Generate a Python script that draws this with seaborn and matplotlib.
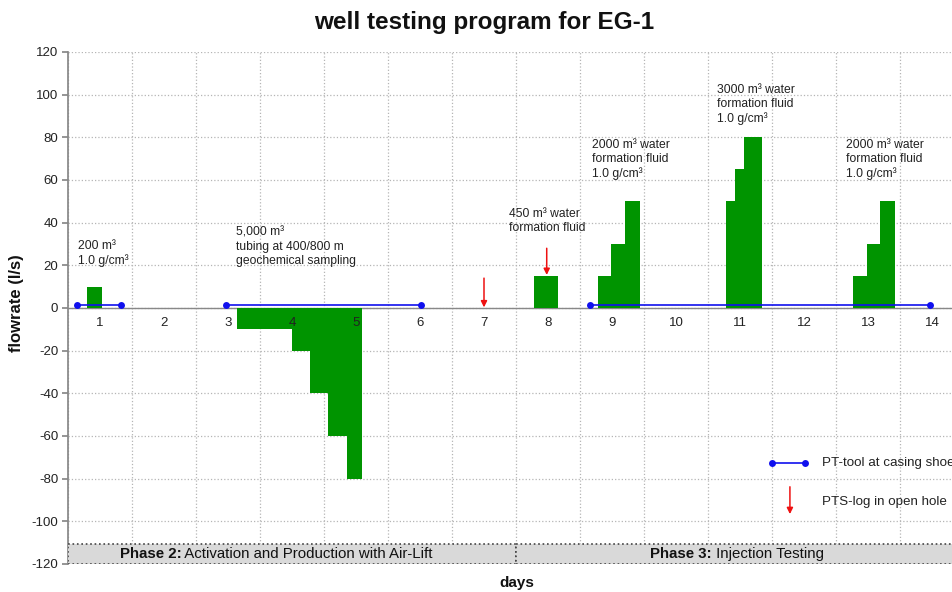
import matplotlib
matplotlib.use("Agg")
import matplotlib.pyplot as plt
import seaborn as sns
import pandas as pd
from matplotlib.patches import Rectangle

# bar segments (start/end in days, flowrate in l/s)
bar_start = [0.30, 2.64, 2.92, 3.21, 3.50, 3.78, 4.06, 4.36, 7.28,
             8.28, 8.48, 8.70, 10.28, 10.42, 10.57, 10.71, 12.27, 12.48, 12.69]
bar_end = [0.53, 2.92, 3.21, 3.50, 3.78, 4.06, 4.36, 4.59, 7.66,
           8.48, 8.70, 8.94, 10.42, 10.57, 10.71, 10.85, 12.48, 12.69, 12.92]
flowrate = [10, -10, -10, -10, -20, -40, -60, -80, 15,
            15, 30, 50, 50, 65, 80, 80, 15, 30, 50]

# PT-tool runs (start, end)
pt_start = [0.14, 2.47, 8.16]
pt_end = [0.83, 5.52, 13.47]
pt_level = 1.2

# PTS-log arrows (x, from, to)
pts_x = [6.5, 7.48]
pts_top = [14, 28]
pts_bottom = [0.3, 15.5]

day_labels = [str(d) for d in range(1, 15)]

notes = ["200 m³\n1.0 g/cm³",
         "5,000 m³\ntubing at 400/800 m\ngeochemical sampling",
         "450 m³ water\nformation fluid",
         "2000 m³ water\nformation fluid\n1.0 g/cm³",
         "3000 m³ water\nformation fluid\n1.0 g/cm³",
         "2000 m³ water\nformation fluid\n1.0 g/cm³"]
note_x = [0.15, 2.62, 6.89, 8.18, 10.14, 12.15]
note_top = [32, 38, 47, 79, 105, 79]

phase_bold = ["Phase 2:", "Phase 3:"]
phase_rest = [" Activation and Production with Air-Lift", " Injection Testing"]
phase_start = [0, 7]
phase_end = [7, 14]
phase_split_x = [1.77, 10.06]

sns.set_theme(style="white")
plt.rcParams['font.family'] = ['Liberation Sans', 'DejaVu Sans']
plt.rcParams['axes.unicode_minus'] = False

fig = plt.figure(figsize=(9.53, 5.92), dpi=100)
ax = fig.add_axes([68 / 953, 28 / 592, 896 / 953, 512 / 592])

green = "#009400"
for s, e, f in zip(bar_start, bar_end, flowrate):
    ax.bar(s, f, width=e - s, align='edge', color=green, linewidth=0, zorder=3)

pt_df = pd.DataFrame({
    "x": [v for pair in zip(pt_start, pt_end) for v in pair],
    "y": [pt_level] * (2 * len(pt_start)),
    "run": [i for i in range(len(pt_start)) for _ in range(2)],
})
sns.lineplot(data=pt_df, x="x", y="y", units="run", estimator=None, color="#1010ee",
             lw=1.2, marker="o", markersize=5, markeredgewidth=0, ax=ax, zorder=4)

for x, t, b in zip(pts_x, pts_top, pts_bottom):
    ax.annotate("", xy=(x, b), xytext=(x, t),
                arrowprops=dict(arrowstyle='-|>', color='#ee1111', lw=1.1,
                                mutation_scale=9, shrinkA=0, shrinkB=0), zorder=5)

for txt, x, y in zip(notes, note_x, note_top):
    ax.text(x, y, txt, fontsize=8.7, color="#222222", va='top', ha='left',
            linespacing=1.2, zorder=5)

for i, lab in enumerate(day_labels):
    ax.text(i + 0.5, -7, lab, fontsize=9.5, color="#222222", ha='center', va='center')

# legend drawn inside the axes
ax.plot([11.0, 11.52], [-72.7, -72.7], color="#1010ee", lw=1.2, marker="o",
        markersize=5, markeredgewidth=0, zorder=4)
ax.text(11.78, -72.7, "PT-tool at casing shoe", fontsize=9.6, color="#222222", va='center')
ax.annotate("", xy=(11.28, -96.6), xytext=(11.28, -83.8),
            arrowprops=dict(arrowstyle='-|>', color='#ee1111', lw=1.1,
                            mutation_scale=9, shrinkA=0, shrinkB=0))
ax.text(11.78, -90.8, "PTS-log in open hole", fontsize=9.6, color="#222222", va='center')

# phase band
for s, e, b, r, sx in zip(phase_start, phase_end, phase_bold, phase_rest, phase_split_x):
    ax.add_patch(Rectangle((s, -120), e - s, 9.3, facecolor="#d9d9d9",
                           edgecolor="#444444", linestyle=':', lw=1.2, zorder=6))
    ax.text(sx, -115.3, b, fontsize=10.8, fontweight='bold', color="#111111",
            ha='right', va='center', zorder=7)
    ax.text(sx, -115.3, r, fontsize=10.8, color="#111111", ha='left', va='center', zorder=7)

ax.set_xlim(0, 14)
ax.set_ylim(-120, 120)
ax.set_yticks(range(-120, 121, 20))
ax.set_xticks(range(0, 15))
ax.set_xticklabels([])
ax.grid(True, color="#b5b5b5", linestyle=':', lw=0.9, zorder=0)
ax.set_axisbelow(True)
ax.axhline(0, color="#888888", lw=1.0, zorder=2)
for side in ["top", "right", "bottom"]:
    ax.spines[side].set_visible(False)
ax.spines["left"].set_color("#888888")
ax.tick_params(axis='y', length=4, color="#888888", labelsize=9.5, labelcolor="#222222", pad=3, left=True)
ax.tick_params(axis='x', length=0)

ax.set_xlabel("days", fontsize=11, fontweight='bold', color="#111111")
ax.set_ylabel("flowrate (l/s)", fontsize=12, fontweight='bold', color="#111111")
ax.xaxis.set_label_coords(449 / 896, -12 / 512)
ax.yaxis.set_label_coords(-51 / 896, 261 / 512)
ax.yaxis.label.set_va('center')
fig.text(484 / 953, 1 - 22 / 592, "well testing program for EG-1", fontsize=17.5,
         fontweight='bold', ha='center', va='center', color="#111111")

fig.savefig("out.png", dpi=100)
